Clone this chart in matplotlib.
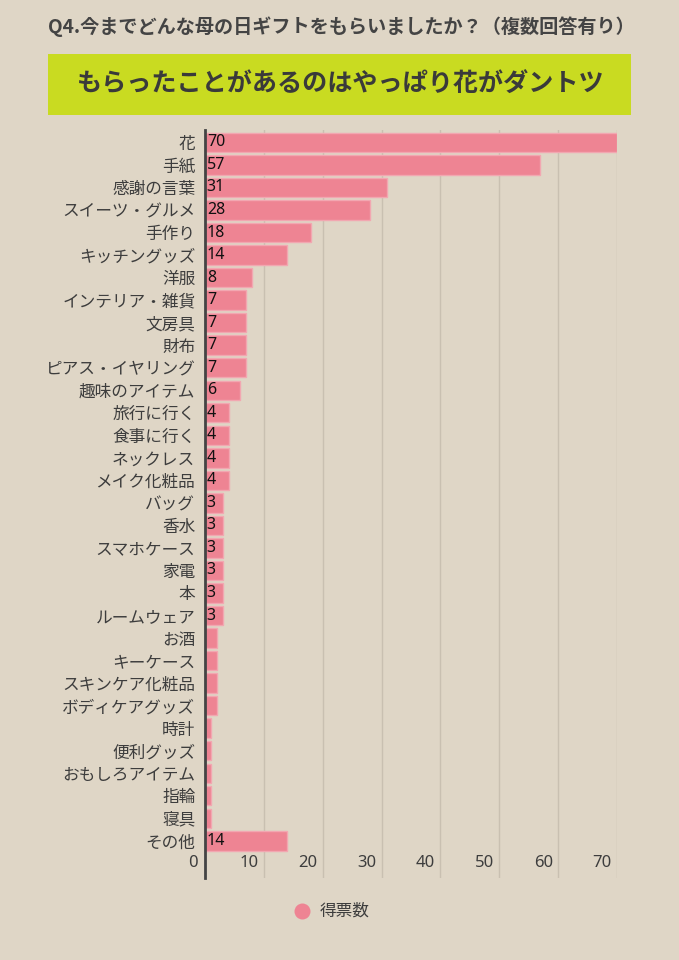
import matplotlib
matplotlib.use("Agg")
import matplotlib.pyplot as plt
from matplotlib.patches import Rectangle, Ellipse

plt.rcParams['font.family'] = ['Noto Sans CJK JP', 'DejaVu Sans']

# data
categories = ["花", "手紙", "感謝の言葉", "スイーツ・グルメ", "手作り", "キッチングッズ",
              "洋服", "インテリア・雑貨", "文房具", "財布", "ピアス・イヤリング",
              "趣味のアイテム", "旅行に行く", "食事に行く", "ネックレス", "メイク化粧品",
              "バッグ", "香水", "スマホケース", "家電", "本", "ルームウェア",
              "お酒", "キーケース", "スキンケア化粧品", "ボディケアグッズ",
              "時計", "便利グッズ", "おもしろアイテム", "指輪", "寝具", "その他"]
votes = [70, 57, 31, 28, 18, 14, 8, 7, 7, 7, 7, 6, 4, 4, 4, 4,
         3, 3, 3, 3, 3, 3, 2, 2, 2, 2, 1, 1, 1, 1, 1, 14]
xticks = [0, 10, 20, 30, 40, 50, 60, 70]
series_name = "得票数"
title = "Q4.今までどんな母の日ギフトをもらいましたか？（複数回答有り）"
headline = "もらったことがあるのはやっぱり花がダントツ"

bg = "#DFD6C6"
pink = "#EE8493"
txt = "#3D3D3D"
numfont = ['Noto Sans', 'DejaVu Sans']

fig = plt.figure(figsize=(6.79, 9.6), dpi=100, facecolor=bg)

W, H = 679, 960
ax = fig.add_axes([205 / W, 1 - 878 / H, (617 - 205) / W, (878 - 130) / H])
ax.set_facecolor(bg)

n = len(categories)
rows = list(range(n))
ax.barh(rows, votes, height=0.86, color=pink, edgecolor="#F2A7B1", linewidth=1, zorder=2)

ax.set_xlim(0, 70)
ax.set_ylim(n + 0.65, -0.55)

for x in xticks[1:]:
    ax.axvline(x, color="#C9C0B1", linewidth=1, zorder=1)
    ax.text(x - 0.9, n, str(x), ha="right", va="center", fontsize=12, color=txt,
            family=numfont)
ax.text(-1.3, n, "0", ha="right", va="center", fontsize=12, color=txt, clip_on=False,
        family=numfont)

for i, v in enumerate(votes):
    if v >= 3:
        ax.text(0.3, i, str(v), ha="left", va="center", fontsize=11.5, color="#111111",
                zorder=3, family=numfont)

ax.set_yticks(rows)
ax.set_yticklabels(categories, fontsize=12, color=txt)
ax.tick_params(axis="y", length=0, pad=7)
ax.set_xticks([])
for s in ["top", "right", "bottom"]:
    ax.spines[s].set_visible(False)
ax.spines["left"].set_color("#444444")
ax.spines["left"].set_linewidth(2)
ax.spines["left"].set_zorder(4)

# title and headline box
fig.text(48 / W, 1 - 27 / H, title, ha="left", va="center", fontsize=13.8,
         fontweight="bold", color="#444444")
fig.patches.append(Rectangle((48 / W, 1 - 115 / H), (631 - 48) / W, (115 - 54) / H,
                             transform=fig.transFigure, facecolor="#C9DB21",
                             edgecolor="none"))
fig.text(341 / W, 1 - 84 / H, headline, ha="center", va="center", fontsize=18.1,
         fontweight="bold", color="#3A3A3A")

# legend
fig.patches.append(Ellipse((302.5 / W, 1 - 911.5 / H), 16 / W, 16 / H,
                           transform=fig.transFigure, facecolor=pink, edgecolor="none"))
fig.text(320 / W, 1 - 911 / H, series_name, ha="left", va="center", fontsize=12, color=txt)

fig.savefig("out.png", dpi=100, facecolor=bg)
